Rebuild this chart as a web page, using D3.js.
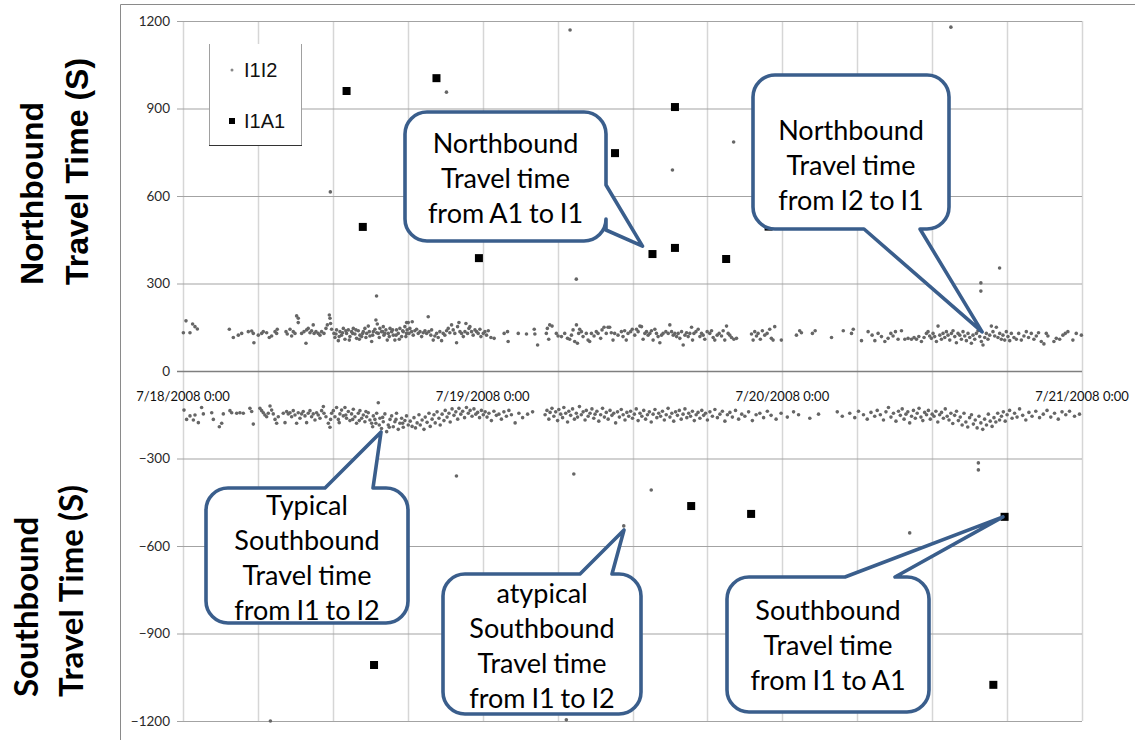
<!DOCTYPE html>
<html>
<head>
<meta charset="utf-8">
<script src="https://cdn.jsdelivr.net/npm/d3@7"></script>
<style>
  html, body { margin: 0; padding: 0; background: #fff; }
  svg { display: block; }
</style>
</head>
<body>
<svg id="chart" width="1135" height="740"></svg>
<script>
// Travel times in seconds; time as hours since 7/18/2008 0:00.
// Northbound is positive, southbound negative.

// I1I2 northbound (typical band plus stray readings)
const i1i2North = [
  [0.03,131],[0.24,172],[0.56,131],[0.77,161],[0.96,152],[1.15,144],
  [3.71,143],[4.03,115],[4.43,123],[4.7,129],[5.23,135],[5.5,137],[5.63,129],[5.68,97],[6.03,123],[6.3,129],
  [6.43,135],[6.7,131],[6.91,115],[7.1,120],[7.37,135],[7.55,143],[7.5,129],
  [8.25,135],[8.35,127],[8.57,143],[8.7,120],[8.83,135],[8.97,129],[9.1,189],[9.23,181],[9.23,166],
  [9.5,129],[9.69,135],[9.85,95],[9.9,141],[10.03,146],[10.17,131],[10.3,138],[10.43,158],[10.5,129],
  [10.65,135],[10.83,129],[10.97,123],[11.1,135],[11.29,129],[11.45,146],[11.56,158],[11.72,192],
  [11.77,181],[11.82,163],[11.9,143],
  [12.09,129],[12.17,115],[12.3,141],[12.44,104],[12.57,135],[12.7,123],[12.84,146],[12.97,109],[13.1,129],
  [13.24,141],[13.37,118],[13.5,135],[13.64,146],[13.77,127],[13.9,112],[14.04,138],[14.17,123],[14.31,118],
  [14.44,135],[14.57,146],[14.71,129],[14.84,154],[14.97,120],[15.11,101],[15.24,135],[15.37,143],[15.45,175],
  [15.56,161],[15.64,129],[15.77,146],[15.9,135],[16.04,152],[16.09,123],[16.25,141],[16.36,106],[16.44,129],
  [16.58,146],[16.71,135],[16.84,123],[16.97,106],[17.1,141],[17.24,129],[17.37,146],[17.51,118],[17.64,135],
  [17.77,152],[17.9,129],[18.04,166],
  [12.25,127],[12.51,118],[12.78,131],[13.04,138],[13.32,106],[13.59,129],[13.85,141],[14.12,109],[14.39,129],
  [14.65,115],[14.92,135],[15.19,123],[15.51,131],[15.72,115],[15.99,135],[16.17,129],[16.52,118],[16.79,141],
  [17.06,123],[17.32,109],[17.59,138],[17.85,118],
  [17.91,166],[17.95,141],[18.1,129],[18.17,146],[18.31,135],[18.36,169],[18.44,123],[18.57,138],[18.71,143],
  [18.84,129],[18.98,135],[19.11,118],[19.24,131],[19.38,138],[19.51,129],[19.64,186],[19.69,135],[19.85,123],
  [19.91,141],[20.04,106],[20.17,120],[20.31,129],[20.44,115],[20.57,135],[20.71,104],[20.84,129],[20.97,123],
  [21.11,138],[21.24,146],[21.37,131],[21.51,158],[21.64,141],[21.77,129],[21.91,97],[21.99,152],[22.1,166],
  [22.18,135],[22.31,129],[22.45,118],[22.58,135],[22.66,163],[22.79,129],[22.9,146],[22.98,152],[23.11,135],
  [23.24,123],[23.38,141],[23.51,135],[23.64,129],[23.78,143],[23.86,118],[24.05,129],[24.18,135],[24.31,123],
  [24.45,138],[24.66,115],[24.92,112],[25.72,129],[25.99,135],[26.04,101],[26.85,129],[27.51,127],[28.13,143],
  [28.18,127],[28.4,89],[29.1,129],[29.18,146],[29.29,109],[29.37,158],[29.56,154],[29.9,129],[30.04,120],
  [30.31,118],[30.57,129],[30.79,112],[30.97,109],[31.11,123],[31.24,141],[31.37,101],[31.51,158],[31.59,95],
  [31.69,129],[31.77,143],[31.91,135],[32.04,118],[32.3,129],[32.44,106],[32.57,101],[32.71,129],[32.92,120],
  [33.1,135],[33.24,129],[33.45,112],[33.56,141],[33.72,150],[33.9,129],[34.04,150],[34.17,150],[34.3,131],
  [34.44,106],[34.57,129],[34.84,123],[35.11,135],[35.24,118],[35.37,138],[35.5,106],[35.64,129],[35.85,135],
  [35.98,143],
  [36.18,123],[36.32,143],[36.45,135],[36.59,154],[36.72,152],[36.85,109],[36.99,129],[37.12,135],[37.25,123],
  [37.39,129],[37.52,138],[37.65,106],[37.79,143],[37.92,129],[38.05,118],[38.19,97],[38.32,123],[38.45,129],
  [38.67,135],[38.86,129],[38.99,158],[39.13,135],[39.26,123],[39.39,129],[39.53,118],[39.66,129],[39.79,112],
  [39.93,135],[40.06,89],[40.2,123],[40.33,131],[40.46,118],[40.59,129],[40.73,150],[40.81,106],[40.92,129],
  [41.08,135],[41.26,143],[41.4,118],[41.53,129],[41.66,123],[41.79,109],[41.98,135],[42.19,129],[42.33,138],
  [42.46,115],[42.59,106],[42.78,123],[42.94,129],[43.13,120],[43.26,138],[43.39,106],[43.53,154],[43.66,129],
  [43.79,123],[43.93,115],[44.12,109],[44.33,112],[45.53,127],[45.66,106],[45.79,135],[45.93,120],[46.06,129],
  [46.24,109],[46.4,138],[46.59,123],[46.78,129],[46.99,143],[47.12,112],[47.26,106],[47.39,152],[47.92,106],
  [49.13,123],[49.39,138],[49.53,131],[50.41,129],[50.63,138],[51.94,115],[52.88,138],[53.54,129],[53.68,143],
  [54.34,104],[54.87,135],[55.19,123],[55.41,104],[55.67,129],[55.94,118],[56.21,101],[56.47,112],[56.69,129],
  [56.87,120],[57.06,135],[57.27,109],[57.54,138],[57.81,109],[58.07,112],[58.34,109],[58.55,115],[58.74,109],
  [58.93,118],[59.14,101],[59.35,115],[59.54,129],[59.67,135],[59.8,120],[59.94,112],[60.07,129],[60.2,118],
  [60.34,101],[60.47,154],[60.61,123],[60.74,109],[60.87,129],[61.01,115],[61.14,135],[61.27,123],[61.41,106],
  [61.54,129],[61.67,138],[61.81,118],[61.94,97],[62.07,129],[62.21,123],[62.34,109],[62.47,135],[62.61,120],
  [62.74,104],[62.87,129],[63.01,115],[63.14,95],[63.27,123],[63.41,109],[63.54,129],[63.67,138],[63.81,118],
  [63.94,101],[64.07,89],[64.21,115],[64.34,129],[64.47,109],[64.61,123],[64.74,154],[64.87,135],[65.01,120],
  [65.14,150],[65.27,115],[65.41,129],[65.54,109],[65.67,123],[65.81,106],[65.94,135],[66.07,118],[66.21,104],
  [66.34,129],[66.55,115],[66.74,109],[66.93,129],[67.14,106],[67.35,120],[67.54,135],[67.72,115],[67.94,129],
  [68.15,109],[68.34,120],[68.52,131],[68.74,101],[68.95,93],[69.14,129],[69.27,120],[69.75,101],[69.94,112],
  [70.21,109],[70.47,123],[70.66,129],[70.87,135],[71.27,106],[71.54,129],[71.95,123],
  // stray northbound readings
  [11.8,614],[15.5,257],[21.1,956],[31.0,1169],[31.5,315],[39.2,689],[44.1,785],[46.8,490],
  [61.5,1179],[63.9,302],[63.9,274],[65.4,353]
];

// I1I2 southbound
const i1i2South = [
  [0.08,-134],[0.29,-166],[0.56,-154],[0.83,-168],[0.96,-151],[1.23,-177],[1.49,-125],[1.63,-147],[2.3,-143],
  [2.43,-166],[2.91,-191],[3.1,-179],[3.23,-147],[3.76,-136],[3.9,-143],[4.3,-145],[4.56,-143],[4.83,-145],
  [5.36,-128],[5.5,-139],[5.63,-182],[6.16,-128],[6.3,-136],[6.43,-143],[6.56,-151],[6.7,-157],[6.83,-145],
  [6.97,-120],[7.1,-134],[7.23,-147],[7.37,-166],[7.5,-179],[7.63,-157],[8.03,-145],[8.17,-177],[8.3,-139],
  [8.43,-147],[8.57,-143],[8.7,-157],[8.83,-136],[8.97,-151],[9.1,-179],[9.23,-143],[9.37,-162],[9.5,-147],
  [9.63,-139],[9.77,-154],[9.9,-177],[10.03,-145],[10.17,-136],[10.3,-157],[10.43,-147],[10.57,-168],[10.7,-143],
  [10.83,-151],[10.97,-162],[11.1,-136],[11.24,-122],[11.29,-145],[11.45,-157],[11.64,-179],[11.77,-193],
  [11.9,-145],[12.04,-136],[12.17,-157],[12.3,-125],[12.44,-166],[12.57,-147],[12.7,-134],[12.84,-154],
  [12.97,-125],[13.1,-162],[13.24,-139],[13.37,-170],[13.5,-147],[13.64,-131],[13.77,-157],[13.9,-179],
  [14.04,-145],[14.17,-136],[14.31,-162],[14.44,-151],[14.57,-174],[14.71,-157],[14.84,-143],[14.97,-168],
  [15.11,-179],[15.24,-154],[15.37,-166],[15.51,-145],[15.64,-109],[15.72,-185],[15.77,-162],[15.9,-197],
  [16.04,-174],[16.17,-147],[16.31,-208],[16.44,-185],[16.58,-166],[16.71,-154],[16.84,-191],[16.97,-174],
  [17.1,-145],[17.24,-200],[17.37,-179],[17.51,-162],[17.64,-193],[17.77,-170],[17.9,-154],[18.04,-185],
  [11.82,-166],[12.51,-177],[13.04,-151],[13.59,-166],[14.12,-170],[14.65,-139],[15.19,-191],[15.45,-179],
  [15.99,-159],[16.52,-193],[17.06,-166],[17.59,-179],
  [18.2,-172],[18.35,-190],[18.5,-160],[18.62,-195],[18.75,-178],[18.9,-150],[19.0,-185],[19.15,-168],
  [19.3,-200],[19.4,-158],[19.55,-176],[19.7,-145],[19.8,-190],[19.95,-165],[20.1,-150],[20.2,-178],
  [20.35,-140],[20.5,-162],[20.6,-185],[20.75,-148],[20.9,-170],[21.0,-135],[21.15,-158],[21.3,-145],
  [21.4,-175],[21.55,-130],[21.7,-152],[21.85,-140],[22.0,-165],[22.1,-128],[22.25,-148],[22.4,-138],
  [22.55,-160],[22.7,-125],[22.85,-145],[23.0,-135],[23.15,-155],[23.3,-130],[23.45,-148],[23.6,-142],
  [23.75,-160],[23.9,-135],[24.05,-150],[24.2,-140],[24.35,-158],[24.5,-145],[24.7,-170],[24.9,-138],
  [25.1,-152],[25.3,-148],[25.5,-165],[25.7,-140],[25.9,-155],[26.1,-135],[26.3,-150],[26.6,-178],
  [26.9,-145],[27.2,-160],[27.6,-148],[28.0,-140],
  [29.0,-150],[29.15,-135],[29.3,-165],[29.4,-142],[29.55,-128],[29.7,-155],[29.85,-140],[30.0,-170],
  [30.1,-132],[30.25,-148],[30.4,-160],[30.5,-125],[30.65,-145],[30.8,-175],[30.9,-138],[31.05,-152],
  [31.2,-130],[31.35,-165],[31.5,-145],[31.6,-158],[31.75,-122],[31.9,-150],[32.05,-140],[32.2,-168],
  [32.3,-135],[32.45,-155],[32.6,-145],[32.75,-130],[32.9,-162],[33.0,-148],[33.15,-138],[33.3,-172],
  [33.45,-150],[33.6,-128],[33.75,-158],[33.9,-142],[34.05,-165],[34.2,-135],[34.35,-152],[34.5,-145],
  [34.65,-178],[34.8,-140],[34.95,-158],[35.1,-132],[35.25,-150],[35.4,-168],[35.55,-142],[35.7,-155],
  [35.85,-138],[36.0,-162],[36.15,-148],[36.3,-130],[36.45,-170],[36.6,-145],[36.75,-155],[36.9,-135],
  [37.05,-165],[37.2,-150],[37.35,-140],[37.5,-175],[37.65,-148],[37.8,-132],[37.95,-160],[38.1,-145],
  [38.25,-155],[38.4,-138],[38.55,-168],[38.7,-150],[38.85,-128],[39.0,-158],[39.15,-145],[39.3,-172],
  [39.45,-140],[39.6,-152],[39.75,-135],[39.9,-165],[40.05,-148],[40.2,-130],[40.35,-160],[40.5,-145],
  [40.65,-155],[40.8,-138],[40.95,-170],[41.1,-150],[41.25,-142],[41.4,-162],[41.55,-135],[41.7,-152],
  [41.85,-145],[42.0,-168],[42.2,-140],[42.4,-155],[42.6,-132],[42.8,-160],[43.0,-148],[43.2,-138],
  [43.4,-172],[43.6,-150],[43.8,-142],[44.0,-158],[44.25,-135],[44.5,-165],[44.75,-148],[45.0,-155],
  [45.3,-140],[45.6,-170],[45.9,-150],[46.2,-145],[46.5,-160],[46.8,-138],[47.1,-152],[47.5,-165],
  [47.9,-145],[48.4,-158],[48.9,-140],[49.3,-150],[50.2,-162],[50.9,-148],[52.4,-140],[52.8,-155],
  [53.4,-145],[53.8,-160],[54.1,-138],[54.5,-150],[54.8,-165],[55.1,-142],[55.4,-155],[55.6,-135],
  [55.85,-150],[56.1,-168],[56.3,-140],[56.5,-125],[56.7,-158],[56.9,-145],[57.1,-172],[57.3,-138],
  [57.45,-152],[57.6,-130],[57.75,-165],[57.9,-148],[58.05,-140],[58.2,-178],[58.35,-155],[58.5,-135],
  [58.65,-162],[58.8,-145],[58.95,-128],[59.1,-158],[59.25,-170],[59.4,-142],[59.55,-150],[59.7,-135],
  [59.85,-165],[60.0,-148],[60.15,-155],[60.3,-138],[60.45,-175],[60.6,-150],[60.75,-142],[60.9,-162],
  [61.05,-130],[61.2,-155],[61.35,-168],[61.5,-145],[61.65,-180],[61.8,-152],[61.95,-138],[62.1,-170],
  [62.25,-158],[62.4,-185],[62.55,-145],[62.7,-175],[62.85,-192],[63.0,-160],[63.15,-150],[63.3,-182],
  [63.45,-168],[63.6,-195],[63.75,-155],[63.9,-178],[64.05,-200],[64.2,-165],[64.35,-185],[64.5,-148],
  [64.65,-172],[64.8,-190],[64.95,-160],[65.1,-175],[65.25,-145],[65.4,-168],[65.55,-155],[65.7,-140],
  [65.85,-172],[66.0,-150],[66.2,-135],[66.4,-162],[66.6,-145],[66.8,-158],[67.0,-130],[67.25,-152],
  [67.5,-168],[67.75,-142],[68.0,-155],[68.3,-138],[68.6,-160],[68.9,-148],[69.2,-135],[69.5,-158],
  [69.8,-145],[70.1,-165],[70.4,-140],[70.7,-150],[71.0,-138],[71.4,-155],[71.8,-148],
  // stray southbound readings
  [7.0,-1200],[21.9,-360],[31.3,-353],[37.5,-408],[35.3,-531],[30.7,-1196],[58.2,-555],
  [63.7,-315],[63.7,-339]
];

// I1A1 readings
const i1a1North = [
  [13.1,960],[14.4,494],[20.3,1004],[23.7,387],[34.6,747],[37.6,401],
  [39.4,905],[39.4,422],[43.5,384],[46.8,987],[46.9,495]
];
const i1a1South = [
  [15.3,-1008],[40.7,-463],[45.5,-490],[65.8,-500],[64.9,-1076]
];

const yTicks = [1200, 900, 600, 300, 0, -300, -600, -900, -1200];
const dateHours = [0, 24, 48, 72];
const dateLabels = ["7/18/2008 0:00", "7/19/2008 0:00", "7/20/2008 0:00", "7/21/2008 0:00"];
const seriesNames = ["I1I2", "I1A1"];

// Callout notes: box, side the pointer leaves from, pointer base and tip (in data units)
const notes = [
  { box: [405, 112, 606, 241], side: "right", base: [185, 230], tip: [36.8, 428],
    lines: ["Northbound", "Travel time", "from A1 to I1"], firstLine: 143 },
  { box: [753, 75, 949, 229], side: "bottom", base: [864, 920], tip: [64.0, 134],
    lines: ["Northbound", "Travel time", "from I2 to I1"], firstLine: 130 },
  { box: [206, 488, 408, 623], side: "top", base: [325, 373], tip: [15.86, -209],
    lines: ["Typical", "Southbound", "Travel time", "from I1 to I2"], firstLine: 505 },
  { box: [443, 574, 641, 714], side: "top", base: [580, 612], tip: [35.32, -545],
    lines: ["atypical", "Southbound", "Travel time", "from I1 to I2"], firstLine: 593 },
  { box: [727, 577, 929, 712], side: "top", base: [845, 895], tip: [65.67, -500],
    lines: ["Southbound", "Travel time", "from I1 to A1"], firstLine: 610 }
];

const svg = d3.select("#chart");
const x = d3.scaleLinear().domain([0, 72]).range([183, 1082]);
const y = d3.scaleLinear().domain([-1200, 1200]).range([721, 21]);

// Outer chart frame
svg.append("line").attr("x1", 120.5).attr("x2", 120.5).attr("y1", 4.5).attr("y2", 740)
  .attr("stroke", "#8a8a8a");
svg.append("line").attr("x1", 120.5).attr("x2", 1135).attr("y1", 4.5).attr("y2", 4.5)
  .attr("stroke", "#8a8a8a");

// Vertical gridlines every 6 hours
svg.append("g").selectAll("line").data(d3.range(0, 73, 6)).join("line")
  .attr("x1", d => Math.round(x(d)) + 0.5).attr("x2", d => Math.round(x(d)) + 0.5)
  .attr("y1", y(1200)).attr("y2", y(-1200))
  .attr("stroke", "#d6d6d6").attr("stroke-width", 1.5);

// Value axis with horizontal gridlines
const yAxis = svg.append("g").attr("transform", "translate(177,0)")
  .call(d3.axisLeft(y).tickValues(yTicks).tickFormat(d3.format("d"))
    .tickSizeInner(-(x(72) - 177)).tickSizeOuter(0).tickPadding(7));
yAxis.select(".domain").remove();
yAxis.selectAll(".tick line").attr("stroke", d => d === 0 ? "#7f7f7f" : "#a3a3a3")
  .attr("stroke-width", d => d === 0 ? 1.5 : 1);
yAxis.selectAll(".tick text").attr("font-family", "Lato, 'Liberation Sans', sans-serif")
  .attr("font-size", 13.5).attr("fill", "#2a2a2a");

// Date labels under the zero line
svg.append("g").selectAll("text").data(dateHours).join("text")
  .attr("x", d => x(d)).attr("y", 401)
  .attr("text-anchor", "middle")
  .attr("font-family", "Lato, 'Liberation Sans', sans-serif").attr("font-size", 13)
  .attr("fill", "#111")
  .text((d, i) => dateLabels[i]);

// I1I2 points
svg.append("g").selectAll("circle").data(i1i2North.concat(i1i2South)).join("circle")
  .attr("cx", d => x(d[0])).attr("cy", d => y(d[1])).attr("r", 1.8)
  .attr("fill", "#666");

// I1A1 points
svg.append("g").selectAll("rect").data(i1a1North.concat(i1a1South)).join("rect")
  .attr("x", d => x(d[0]) - 4).attr("y", d => y(d[1]) - 4)
  .attr("width", 8).attr("height", 8).attr("fill", "#000");

// Legend
const lg = svg.append("g");
lg.append("rect").attr("x", 209).attr("y", 44).attr("width", 92).attr("height", 101).attr("fill", "#fff");
lg.append("path").attr("d", "M209.5,44V145.5H301.5V44").attr("fill", "none").attr("stroke", "#a0a0a0");
lg.append("line").attr("x1", 209).attr("x2", 302).attr("y1", 145.5).attr("y2", 145.5).attr("stroke", "#333");
lg.append("circle").attr("cx", 232).attr("cy", 70).attr("r", 1.5).attr("fill", "#888");
lg.append("rect").attr("x", 229).attr("y", 118).attr("width", 6).attr("height", 6).attr("fill", "#000");
lg.selectAll("text.lab").data(seriesNames).join("text").attr("class", "lab")
  .attr("x", 244).attr("y", (d, i) => i === 0 ? 77 : 128)
  .attr("font-family", "'Liberation Sans', Arial, sans-serif").attr("font-size", 20)
  .attr("fill", "#111").text(d => d);

// Callouts
function calloutPath(n) {
  const [x0, y0, x1, y1] = n.box;
  const r = 22;
  const tx = x(n.tip[0]), ty = y(n.tip[1]);
  const [b1, b2] = n.base;
  let p = `M${x0 + r},${y0}`;
  if (n.side === "top") p += `L${b1},${y0}L${tx},${ty}L${b2},${y0}`;
  p += `L${x1 - r},${y0}A${r},${r} 0 0 1 ${x1},${y0 + r}`;
  if (n.side === "right") p += `L${x1},${b1}L${tx},${ty}L${x1},${b2}`;
  p += `L${x1},${y1 - r}A${r},${r} 0 0 1 ${x1 - r},${y1}`;
  if (n.side === "bottom") p += `L${b2},${y1}L${tx},${ty}L${b1},${y1}`;
  p += `L${x0 + r},${y1}A${r},${r} 0 0 1 ${x0},${y1 - r}`;
  p += `L${x0},${y0 + r}A${r},${r} 0 0 1 ${x0 + r},${y0}Z`;
  return p;
}

const cg = svg.append("g").selectAll("g").data(notes).join("g");
cg.append("path").attr("d", calloutPath)
  .attr("fill", "#fff").attr("stroke", "#3a5e8c").attr("stroke-width", 3.6)
  .attr("stroke-linejoin", "round");
cg.each(function (n) {
  const cx = (n.box[0] + n.box[2]) / 2;
  d3.select(this).selectAll("text").data(n.lines).join("text")
    .attr("x", cx).attr("y", (d, i) => n.firstLine + i * 35)
    .attr("dy", "0.36em").attr("text-anchor", "middle")
    .attr("font-family", "Lato, 'Open Sans', sans-serif").attr("font-size", 27)
    .attr("word-spacing", -1)
    .attr("fill", "#000").text(d => d);
});

// Axis titles
[["Northbound", 43], ["Travel Time (S)", 88]].forEach(([t, bx]) => {
  svg.append("text").attr("transform", `translate(${bx},285) rotate(-90)`)
    .attr("font-family", "'Liberation Sans', Arial, sans-serif").attr("font-weight", "bold")
    .attr("font-size", 32).attr("fill", "#000").text(t);
});
[["Southbound", 38], ["Travel Time (S)", 83]].forEach(([t, bx]) => {
  svg.append("text").attr("transform", `translate(${bx},697) rotate(-90)`)
    .attr("font-family", "Lato, 'Open Sans', sans-serif").attr("font-weight", "bold")
    .attr("font-size", 33).attr("fill", "#000").text(t);
});
</script>
</body>
</html>
